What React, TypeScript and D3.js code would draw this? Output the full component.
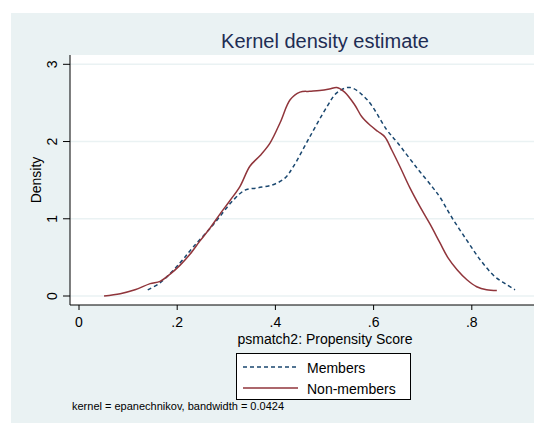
import React from "react";
import * as d3 from "d3";

const xTicks = [0, 0.2, 0.4, 0.6, 0.8];
const xTickLabels = ["0", ".2", ".4", ".6", ".8"];
const yTicks = [0, 1, 2, 3];

const membersX = [0.14, 0.165, 0.206, 0.232, 0.273, 0.314, 0.338, 0.363, 0.395, 0.42, 0.436, 0.47, 0.505, 0.525, 0.552, 0.587, 0.627, 0.648, 0.688, 0.721, 0.735, 0.76, 0.79, 0.817, 0.847, 0.868, 0.888];
const membersY = [0.08, 0.17, 0.43, 0.63, 0.92, 1.24, 1.37, 1.4, 1.44, 1.53, 1.67, 2.06, 2.45, 2.63, 2.7, 2.54, 2.15, 1.99, 1.66, 1.4, 1.28, 1.01, 0.72, 0.47, 0.25, 0.16, 0.08];

const nonX = [0.051, 0.084, 0.114, 0.145, 0.165, 0.185, 0.206, 0.226, 0.246, 0.267, 0.287, 0.308, 0.328, 0.348, 0.369, 0.389, 0.41, 0.43, 0.45, 0.47, 0.49, 0.51, 0.525, 0.541, 0.562, 0.576, 0.593, 0.609, 0.623, 0.637, 0.654, 0.674, 0.695, 0.715, 0.735, 0.752, 0.77, 0.79, 0.81, 0.83, 0.851];
const nonY = [0.0, 0.03, 0.08, 0.16, 0.19, 0.28, 0.4, 0.54, 0.71, 0.88, 1.06, 1.24, 1.42, 1.68, 1.82, 1.98, 2.25, 2.54, 2.64, 2.65, 2.66, 2.68, 2.7, 2.64, 2.47, 2.32, 2.21, 2.13, 2.06, 1.89, 1.67, 1.4, 1.15, 0.93, 0.69, 0.49, 0.34, 0.21, 0.12, 0.08, 0.07];

const seriesNames = ["Members", "Non-members"];
const title = "Kernel density estimate";
const xTitle = "psmatch2: Propensity Score";
const yTitle = "Density";
const note = "kernel = epanechnikov, bandwidth = 0.0424";

const W = 534;
const H = 427;
const FONT = "'Liberation Sans', Arial, Helvetica, sans-serif";
const BG = "#eaf2f3";
const NAVY = "#1a476f";
const MAROON = "#90353b";

export default function App() {
  const x = d3.scaleLinear().domain([0, 1]).range([79, 570]);
  const y = d3.scaleLinear().domain([0, 3]).range([296, 64.3]);
  const line = d3
    .line<[number, number]>()
    .x((d) => x(d[0]))
    .y((d) => y(d[1]))
    .curve(d3.curveCatmullRom.alpha(0.5));
  const mPts: [number, number][] = membersX.map((v, i) => [v, membersY[i]]);
  const nPts: [number, number][] = nonX.map((v, i) => [v, nonY[i]]);

  const plotL = 70, plotR = 580, plotT = 55, plotB = 305;

  return (
    <svg
      width={W}
      height={H}
      style={{ position: "absolute", left: 0, top: 0, display: "block" }}
      fontFamily={FONT}
    >
      <rect x={0} y={0} width={W} height={H} fill="#ffffff" />
      <rect x={11} y={13} width={W - 11} height={H - 13 - 4} fill={BG} />
      <rect x={plotL} y={plotT} width={plotR - plotL} height={plotB - plotT} fill="#ffffff" />
      {yTicks.map((t) => (
        <line key={"g" + t} x1={plotL} x2={plotR} y1={y(t)} y2={y(t)} stroke={BG} strokeWidth={1.6} />
      ))}
      <text x={325} y={48} textAnchor="middle" fontSize={20} fill="#1e2d53">
        {title}
      </text>
      {/* axes */}
      <line x1={plotL} x2={plotL} y1={plotT} y2={plotB} stroke="#000" strokeWidth={1} />
      <line x1={plotL} x2={plotR} y1={plotB} y2={plotB} stroke="#000" strokeWidth={1} />
      {yTicks.map((t) => (
        <g key={"y" + t}>
          <line x1={63} x2={plotL} y1={y(t)} y2={y(t)} stroke="#000" strokeWidth={1} />
          <text
            transform={`translate(57,${y(t)}) rotate(-90)`}
            textAnchor="middle"
            fontSize={14}
            fill="#000"
          >
            {t}
          </text>
        </g>
      ))}
      {xTicks.map((t, i) => (
        <g key={"x" + t}>
          <line x1={x(t)} x2={x(t)} y1={plotB} y2={plotB + 5} stroke="#000" strokeWidth={1} />
          <text x={x(t)} y={327} textAnchor="middle" fontSize={14} fill="#000">
            {xTickLabels[i]}
          </text>
        </g>
      ))}
      <text
        transform={`translate(41,180) rotate(-90)`}
        textAnchor="middle"
        fontSize={14}
        fill="#000"
      >
        {yTitle}
      </text>
      <text x={325} y={344} textAnchor="middle" fontSize={14} fill="#000">
        {xTitle}
      </text>
      {/* curves */}
      <path d={line(mPts) || ""} fill="none" stroke={NAVY} strokeWidth={1.5} strokeDasharray="4,3" />
      <path d={line(nPts) || ""} fill="none" stroke={MAROON} strokeWidth={1.5} />
      {/* legend */}
      <rect x={236.5} y={353.5} width={174} height={46} fill="#fff" stroke="#000" strokeWidth={1} />
      <line x1={243} x2={298} y1={367} y2={367} stroke={NAVY} strokeWidth={1.5} strokeDasharray="4,3" />
      <line x1={243} x2={298} y1={388} y2={388} stroke={MAROON} strokeWidth={1.5} />
      <text x={307} y={373} fontSize={14} fill="#000">{seriesNames[0]}</text>
      <text x={307} y={394} fontSize={14} fill="#000">{seriesNames[1]}</text>
      <text x={72} y={410} fontSize={11} fill="#000">{note}</text>
    </svg>
  );
}
